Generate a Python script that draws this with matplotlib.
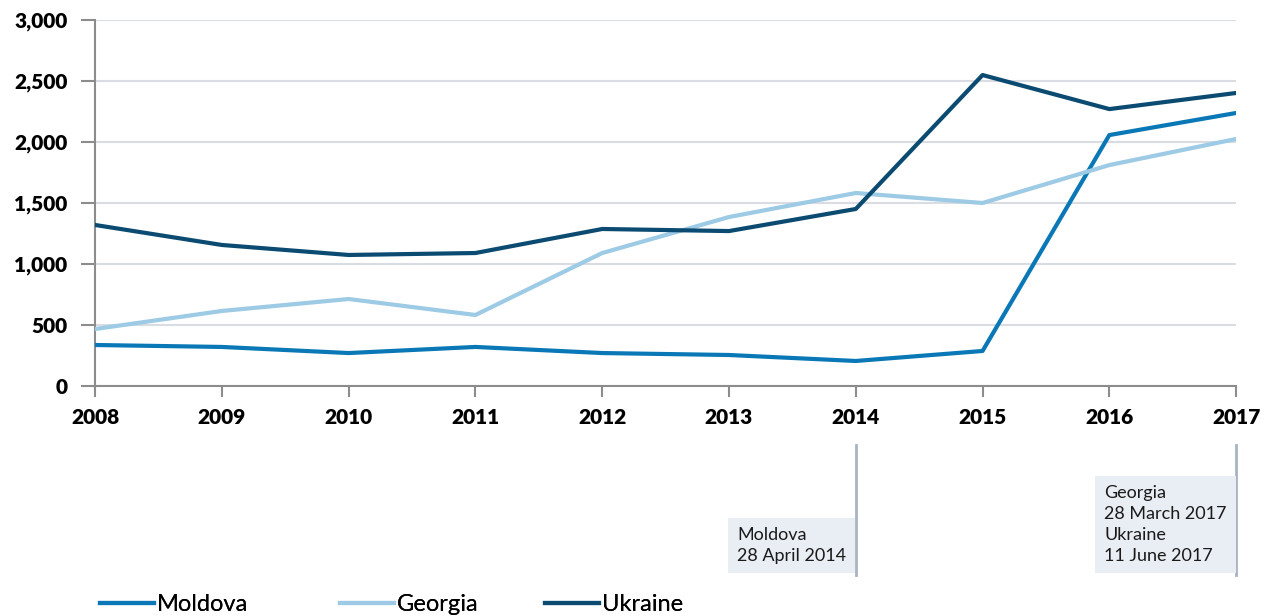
import matplotlib.pyplot as plt
from matplotlib.transforms import blended_transform_factory

color_moldova = '#0a78b6'
color_georgia = '#9dcae4'
color_ukraine = '#0b4b72'

years = [2008, 2009, 2010, 2011, 2012, 2013, 2014, 2015, 2016, 2017]
moldova = [336, 320, 270, 320, 270, 254, 205, 287, 2057, 2238]
georgia = [467, 615, 713, 582, 1090, 1385, 1582, 1500, 1811, 2025]
ukraine = [1320, 1156, 1074, 1090, 1287, 1270, 1451, 2549, 2270, 2402]

y_ticks = [0, 500, 1000, 1500, 2000, 2500, 3000]
y_labels = ['0', '500', '1,000', '1,500', '2,000', '2,500', '3,000']

notes = [
    (2014, 'Moldova\n28 April 2014'),
    (2017, 'Georgia\n28 March 2017\nUkraine\n11 June 2017'),
]

plt.rcParams['font.family'] = ['Lato', 'DejaVu Sans']

fig = plt.figure(figsize=(12.69, 6.16), dpi=100)
ax = fig.add_axes([0.0749, 0.3734, 0.8992, 0.5941])

lm, = ax.plot(years, moldova, color=color_moldova, lw=3, label='Moldova', zorder=3)
lg, = ax.plot(years, georgia, color=color_georgia, lw=3, label='Georgia', zorder=3)
lu, = ax.plot(years, ukraine, color=color_ukraine, lw=3, label='Ukraine', zorder=3)

ax.set_xlim(2008, 2017)
ax.set_ylim(0, 3000)
ax.set_xticks(years)
ax.set_xticklabels([str(y) for y in years], fontweight='heavy', fontsize=15)
ax.set_yticks(y_ticks)
ax.set_yticklabels(y_labels, fontweight='heavy', fontsize=15)
ax.grid(axis='y', color='#d9dce2', lw=1.5)
ax.set_axisbelow(True)
for s in ['top', 'right']:
    ax.spines[s].set_visible(False)
for s in ['left', 'bottom']:
    ax.spines[s].set_color('#8c8c8c')
    ax.spines[s].set_linewidth(1.5)
ax.tick_params(axis='both', colors='#8c8c8c', width=1.5, labelcolor='black')
ax.tick_params(axis='y', length=10, pad=10)
ax.tick_params(axis='x', length=8, pad=8)

trans = blended_transform_factory(ax.transData, ax.transAxes)
for x, txt in notes:
    ax.plot([x, x], [-0.161, -0.516], transform=trans, clip_on=False,
            color='#a9b4c0', lw=2)
    ax.annotate(txt, xy=(x, -0.516), xycoords=trans, xytext=(-6.8, 7.5),
                textcoords='offset points', ha='right', va='bottom',
                multialignment='left', fontsize=13, linespacing=1.4,
                color='#1a1a1a', annotation_clip=False,
                bbox=dict(boxstyle='square,pad=0.5', fc='#e9edf4', ec='none'))

# legend entries sit at uneven spacing in the original, so place each one
for line, xpx in [(lm, 100), (lg, 340), (lu, 545)]:
    leg = fig.legend(handles=[line], loc='center left',
                     bbox_to_anchor=(xpx / 1269, 0.019), frameon=False,
                     fontsize=17, handlelength=2.3, handletextpad=0.1,
                     borderpad=0, borderaxespad=0)
    fig.add_artist(leg)

fig.savefig('out.png', dpi=100)
